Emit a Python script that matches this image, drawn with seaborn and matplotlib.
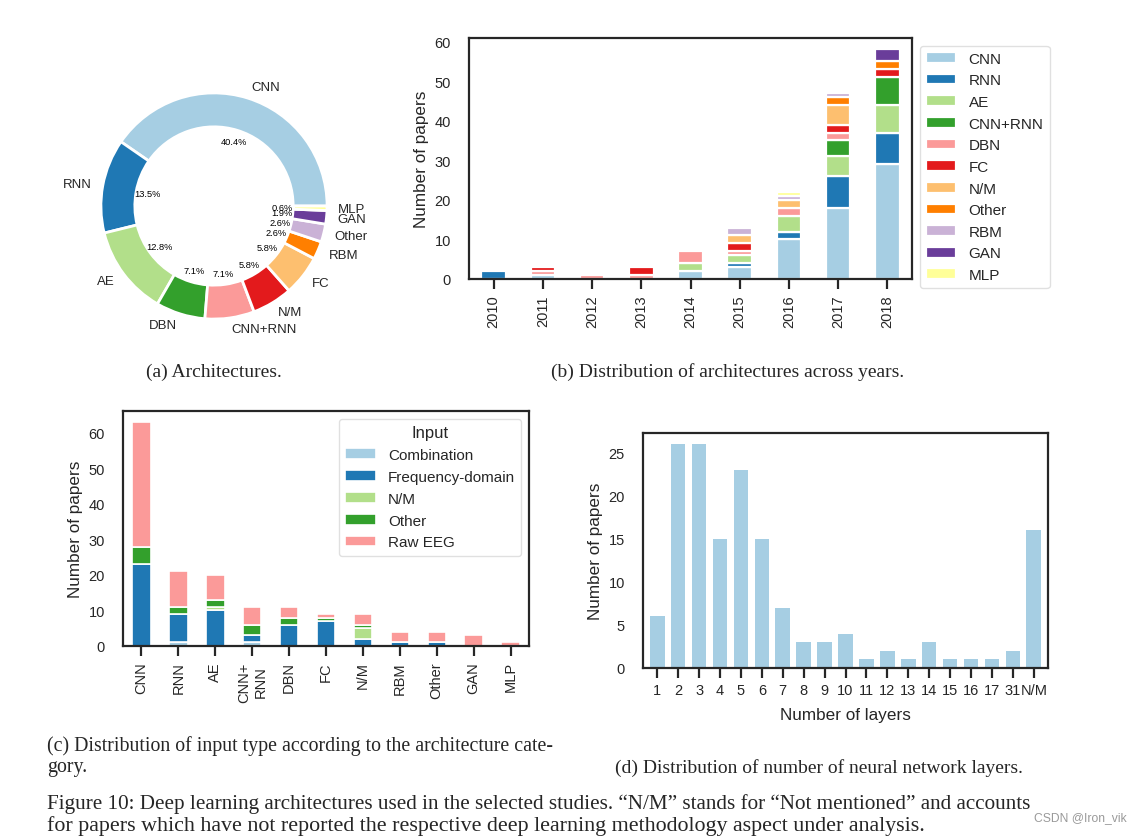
import numpy as np
import seaborn as sns
import matplotlib.pyplot as plt

sns.set_style("white")
plt.rcParams['font.family'] = ['Liberation Sans', 'DejaVu Sans']
plt.rcParams['axes.linewidth'] = 1.6
plt.rcParams['axes.edgecolor'] = '.15'

paired = sns.color_palette("Paired", 12)
text_col = '.15'

# (a) architectures
arch_labels = ['CNN', 'RNN', 'AE', 'DBN', 'CNN+RNN', 'N/M', 'FC', 'RBM', 'Other', 'GAN', 'MLP']
arch_counts = [63, 21, 20, 11, 11, 9, 9, 4, 4, 3, 1]

# (b) architectures across years
years = ['2010', '2011', '2012', '2013', '2014', '2015', '2016', '2017', '2018']
year_series = ['CNN', 'RNN', 'AE', 'CNN+RNN', 'DBN', 'FC', 'N/M', 'Other', 'RBM', 'GAN', 'MLP']
year_cnn = [0, 1, 0, 0, 2, 3, 10, 18, 29]
year_rnn = [2, 0, 0, 0, 0, 1, 2, 8, 8]
year_ae = [0, 0, 0, 0, 2, 2, 4, 5, 7]
year_cnnrnn = [0, 0, 0, 0, 0, 0, 0, 4, 7]
year_dbn = [0, 1, 1, 1, 3, 1, 2, 2, 0]
year_fc = [0, 1, 0, 2, 0, 2, 0, 2, 2]
year_nm = [0, 0, 0, 0, 0, 2, 2, 5, 0]
year_other = [0, 0, 0, 0, 0, 0, 0, 2, 2]
year_rbm = [0, 0, 0, 0, 0, 2, 1, 1, 0]
year_gan = [0, 0, 0, 0, 0, 0, 0, 0, 3]
year_mlp = [0, 0, 0, 0, 0, 0, 1, 0, 0]

# (c) input type per architecture
input_arch = ['CNN', 'RNN', 'AE', 'CNN+\nRNN', 'DBN', 'FC', 'N/M', 'RBM', 'Other', 'GAN', 'MLP']
input_types = ['Combination', 'Frequency-domain', 'N/M', 'Other', 'Raw EEG']
inp_combination = [0, 1, 0, 1, 0, 0, 0, 0, 0, 0, 0]
inp_frequency = [23, 8, 10, 2, 6, 7, 2, 1, 1, 0, 0]
inp_nm = [0, 0, 1, 0, 0, 0, 3, 0, 0, 0, 0]
inp_other = [5, 2, 2, 3, 2, 1, 1, 0, 0, 0, 0]
inp_raw = [35, 10, 7, 5, 3, 1, 3, 3, 3, 3, 1]

# (d) number of layers
layer_labels = ['1', '2', '3', '4', '5', '6', '7', '8', '9', '10', '11', '12',
                '13', '14', '15', '16', '17', '31', 'N/M']
layer_counts = [6, 26, 26, 15, 23, 15, 7, 3, 3, 4, 1, 2, 1, 3, 1, 1, 1, 2, 16]

W, H = 1137, 837
fig = plt.figure(figsize=(W / 100, H / 100), dpi=100)


def px_axes(left, top, right, bottom):
    return fig.add_axes([left / W, 1 - bottom / H, (right - left) / W, (bottom - top) / H])


def style_bar_axes(ax, rot):
    ax.tick_params(axis='x', bottom=True, length=7, width=1.6, color='.15', pad=4,
                   labelsize=10.5, labelcolor=text_col, labelrotation=rot)
    ax.tick_params(axis='y', left=False, length=0, pad=13, labelsize=10.5, labelcolor=text_col)


def stacked(ax, labels, series, names, colors, lw):
    x = np.arange(len(labels))
    bottom = np.zeros(len(labels))
    for vals, name, col in zip(series, names, colors):
        vals = np.array(vals, dtype=float)
        h = np.where(vals > 0, vals, np.nan)
        ax.bar(x, h, width=0.5, bottom=bottom, color=col, edgecolor='white',
               linewidth=lw, label=name)
        bottom += vals
    ax.set_xticks(x)
    ax.set_xticklabels(labels)
    ax.set_xlim(-0.5, len(labels) - 0.5)
    ax.set_ylim(0, bottom.max() * 1.05)


# ---- (a) donut
ax_a = px_axes(67, 60, 361, 354)
ax_a.pie(arch_counts, labels=arch_labels, colors=paired[:11], startangle=0,
         autopct='%1.1f%%', pctdistance=0.6, labeldistance=1.1,
         wedgeprops=dict(width=0.3, edgecolor='white', linewidth=2),
         textprops=dict(fontsize=9.5, color=text_col))
for t in ax_a.texts:
    if t.get_text().endswith('%'):
        t.set_fontsize(6.7)
        t.set_color('black')
ax_a.set_xlim(-1.3, 1.3)
ax_a.set_ylim(-1.3, 1.3)
ax_a.set_aspect('equal')
ax_a.axis('off')

# ---- (b) architectures across years
ax_b = px_axes(469, 39, 912, 280)
stacked(ax_b, years,
        [year_cnn, year_rnn, year_ae, year_cnnrnn, year_dbn, year_fc,
         year_nm, year_other, year_rbm, year_gan, year_mlp],
        year_series, paired[:11], 1.6)
style_bar_axes(ax_b, 90)
ax_b.set_yticks([0, 10, 20, 30, 40, 50, 60])
ax_b.set_ylabel('Number of papers', fontsize=12.3, color=text_col)
ax_b.legend(loc='upper left', bbox_to_anchor=(1, 1), fontsize=11, labelspacing=0.5,
            frameon=True, edgecolor='0.85', labelcolor=text_col)

# ---- (c) input type per architecture
ax_c = px_axes(123, 412, 529, 647)
stacked(ax_c, input_arch, [inp_combination, inp_frequency, inp_nm, inp_other, inp_raw],
        input_types, paired[:5], 1.2)
style_bar_axes(ax_c, 90)
ax_c.set_yticks([0, 10, 20, 30, 40, 50, 60])
ax_c.set_ylabel('Number of papers', fontsize=12.3, color=text_col)
for lab in ax_c.get_xticklabels():
    lab.set_multialignment('center')
leg = ax_c.legend(loc='upper right', fontsize=11, title='Input', title_fontsize=12,
                  labelspacing=0.52, frameon=True, edgecolor='0.85', labelcolor=text_col)
leg.get_title().set_color(text_col)

# ---- (d) number of layers
ax_d = px_axes(643, 434, 1048, 669)
sns.barplot(x=layer_labels, y=layer_counts, color=paired[0], saturation=1,
            width=0.7, linewidth=0, ax=ax_d)
style_bar_axes(ax_d, 0)
ax_d.set_xlim(-0.68, len(layer_labels) - 0.32)
ax_d.set_ylim(0, max(layer_counts) * 1.05)
ax_d.set_yticks([0, 5, 10, 15, 20, 25])
ax_d.set_ylabel('Number of papers', fontsize=12.3, color=text_col)
ax_d.set_xlabel('Number of layers', fontsize=12.3, color=text_col, labelpad=7)

# ---- captions
serif = 'Liberation Serif'
fig.text(214 / W, 1 - 372 / H, '(a) Architectures.', ha='center', va='center',
         family=serif, fontsize=14)
fig.text(728 / W, 1 - 372 / H, '(b) Distribution of architectures across years.',
         ha='center', va='center', family=serif, fontsize=14)
fig.text(47 / W, 1 - 746 / H, '(c) Distribution of input type according to the architecture cate-',
         ha='left', va='center', family=serif, fontsize=14.3)
fig.text(47 / W, 1 - 768 / H, 'gory.', ha='left', va='center', family=serif, fontsize=14.3)
fig.text(819 / W, 1 - 768 / H, '(d) Distribution of number of neural network layers.',
         ha='center', va='center', family=serif, fontsize=14)
fig.text(47 / W, 1 - 804 / H,
         'Figure 10: Deep learning architectures used in the selected studies. \u201cN/M\u201d stands '
         'for \u201cNot mentioned\u201d and accounts',
         ha='left', va='center', family=serif, fontsize=15.2)
fig.text(47 / W, 1 - 826 / H,
         'for papers which have not reported the respective deep learning methodology aspect under analysis.',
         ha='left', va='center', family=serif, fontsize=15.8)
fig.text(1127 / W, 1 - 818 / H, 'CSDN @Iron_vik', ha='right', va='center',
         fontsize=8.7, color='#9a9a9a')

fig.savefig('out.png', dpi=100)
